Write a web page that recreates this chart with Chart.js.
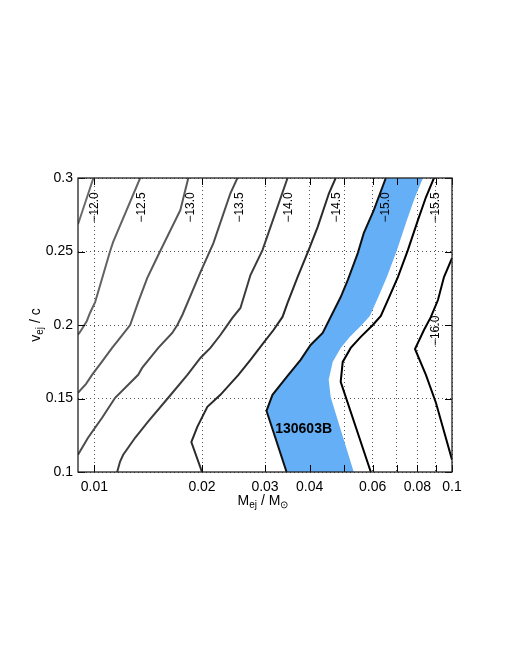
<!DOCTYPE html>
<html>
<head>
<meta charset="utf-8">
<script src="https://cdn.jsdelivr.net/npm/chart.js@4.4.1/dist/chart.umd.min.js"></script>
<style>
body { margin: 0; background: #fff; }
#wrap { width: 513px; height: 664px; }
</style>
</head>
<body>
<div id="wrap"><canvas id="kilonova" width="513" height="664"></canvas></div>
<script>
// contour levels (magnitudes) and their traced paths: ejecta mass (Msun) vs velocity (c)
const levels = ['\u221212.0', '\u221212.5', '\u221213.0', '\u221213.5', '\u221214.0', '\u221214.5', '\u221215.0', '\u221215.5', '\u221216.0'];

const mass120 = [0.00994, 0.009];
const vel120  = [0.3, 0.2685];
const mass125 = [0.01343, 0.01128, 0.01107, 0.01058, 0.01005, 0.00972, 0.00952, 0.00912, 0.009];
const vel125  = [0.3, 0.2564, 0.2503, 0.234, 0.2156, 0.2082, 0.2026, 0.1953, 0.1935];
const mass130 = [0.01831, 0.01739, 0.01528, 0.01405, 0.01326, 0.01259, 0.0118, 0.01121, 0.01044, 0.00985, 0.00948, 0.009];
const vel130  = [0.3, 0.2781, 0.2503, 0.2319, 0.2156, 0.2, 0.1912, 0.1844, 0.1742, 0.1661, 0.16, 0.1539];
const mass135 = [0.02512, 0.02401, 0.02152, 0.0198, 0.01762, 0.01706, 0.01651, 0.01509, 0.0136, 0.01326, 0.01143, 0.01051, 0.0096, 0.009];
const vel135  = [0.3, 0.2896, 0.2557, 0.236, 0.2068, 0.2, 0.1946, 0.1844, 0.1708, 0.1661, 0.1505, 0.1369, 0.1233, 0.1117];
const mass140 = [0.03469, 0.02952, 0.02732, 0.02561, 0.02432, 0.02325, 0.02251, 0.02111, 0.01979, 0.0182, 0.01609, 0.01413, 0.013, 0.01204, 0.0118, 0.01158];
const vel140  = [0.3, 0.2509, 0.234, 0.2116, 0.2048, 0.198, 0.1932, 0.1844, 0.1776, 0.1661, 0.1505, 0.1342, 0.1233, 0.1117, 0.1071, 0.1];
const mass145 = [0.04729, 0.04529, 0.0421, 0.03973, 0.037, 0.03469, 0.03358, 0.03169, 0.02971, 0.02732, 0.02528, 0.02251, 0.0207, 0.0194, 0.01867, 0.02];
const vel145  = [0.3, 0.2896, 0.2666, 0.2509, 0.2326, 0.215, 0.2055, 0.1966, 0.1878, 0.1763, 0.1661, 0.1525, 0.1443, 0.1307, 0.1204, 0.1];
const mass150 = [0.06531, 0.06045, 0.05666, 0.05452, 0.05111, 0.04884, 0.04638, 0.04349, 0.04024, 0.03773, 0.03469, 0.03148, 0.03029, 0.03447];
const vel150  = [0.3, 0.2781, 0.2625, 0.2489, 0.2306, 0.219, 0.2082, 0.1946, 0.1864, 0.1763, 0.1654, 0.1525, 0.1416, 0.1];
const mass155 = [0.08903, 0.08454, 0.0803, 0.07527, 0.07058, 0.06658, 0.06324, 0.06006, 0.05557, 0.0521, 0.04948, 0.04884, 0.05929];
const vel155  = [0.3, 0.2869, 0.2713, 0.2509, 0.2326, 0.2184, 0.2062, 0.2, 0.1919, 0.1844, 0.1749, 0.1613, 0.1];
const mass160 = [0.1, 0.09497, 0.09135, 0.08731, 0.08349, 0.0788, 0.08454, 0.09017, 0.1];
const vel160  = [0.2455, 0.2326, 0.217, 0.2055, 0.1966, 0.1837, 0.1661, 0.1471, 0.1084];

// 130603B allowed band: left edge is the -15.0 contour, right edge below
const bandRightMass = [0.08295, 0.0788, 0.07478, 0.07013, 0.06575, 0.06205, 0.05892, 0.05594, 0.05176, 0.04884, 0.04638, 0.04521, 0.04579, 0.04884, 0.05312];
const bandRightVel  = [0.3, 0.2869, 0.2713, 0.2509, 0.2326, 0.2184, 0.2062, 0.2, 0.1919, 0.1844, 0.1749, 0.1627, 0.1511, 0.1288, 0.1];

// where each contour label sits
const labelMass = [0.01005, 0.01358, 0.01855, 0.0255, 0.03499, 0.0476, 0.06531, 0.09017, 0.09017];
const labelVel  = [0.28, 0.28, 0.28, 0.28, 0.28, 0.28, 0.28, 0.28, 0.196];

const massTicks = [0.01, 0.02, 0.03, 0.04, 0.05, 0.06, 0.07, 0.08, 0.09, 0.1];
const massTickLabels = ['0.01', '0.02', '0.03', '0.04', '', '0.06', '', '0.08', '', '0.1'];
const velTicks = [0.1, 0.15, 0.2, 0.25, 0.3];
const velTickLabels = ['0.1', '0.15', '0.2', '0.25', '0.3'];

const lineColors = ['#6a6a6a', '#636363', '#595959', '#4c4c4c', '#3c3c3c', '#2a2a2a', '#111111', '#000000', '#000000'];

const allMass = [mass120, mass125, mass130, mass135, mass140, mass145, mass150, mass155, mass160];
const allVel = [vel120, vel125, vel130, vel135, vel140, vel145, vel150, vel155, vel160];

function toPoints(xs, ys) {
    return xs.map((x, i) => ({x: x, y: ys[i]}));
}

const bandPoints = toPoints(mass150, vel150)
    .concat(toPoints(bandRightMass, bandRightVel).reverse());
bandPoints.push(bandPoints[0]);

const datasets = [{
    label: '130603B',
    data: bandPoints,
    showLine: true,
    borderWidth: 0,
    borderColor: 'rgba(0,0,0,0)',
    backgroundColor: 'rgb(100,175,245)',
    fill: 'shape',
    order: 2
}];

levels.forEach((lev, i) => {
    datasets.push({
        label: lev,
        data: toPoints(allMass[i], allVel[i]),
        showLine: true,
        borderColor: lineColors[i],
        borderWidth: 2,
        fill: false,
        order: 1
    });
});

const tickFont = {family: 'Liberation Sans', size: 14};

const decorations = {
    id: 'decorations',
    afterDraw(chart) {
        const {ctx, chartArea: a, scales: {x, y}} = chart;
        ctx.save();

        // tick marks on the inside of the box
        ctx.strokeStyle = '#000';
        ctx.lineWidth = 1;
        ctx.beginPath();
        massTicks.forEach(v => {
            const px = Math.round(x.getPixelForValue(v)) + 0.5;
            ctx.moveTo(px, a.top); ctx.lineTo(px, a.top + 7);
            ctx.moveTo(px, a.bottom); ctx.lineTo(px, a.bottom - 7);
        });
        velTicks.forEach(v => {
            const py = Math.round(y.getPixelForValue(v)) + 0.5;
            ctx.moveTo(a.left, py); ctx.lineTo(a.left + 7, py);
            ctx.moveTo(a.right, py); ctx.lineTo(a.right - 7, py);
        });
        ctx.stroke();

        ctx.strokeStyle = '#222';
        ctx.lineWidth = 1.3;
        ctx.strokeRect(a.left, a.top, a.right - a.left, a.bottom - a.top);

        // contour labels, rotated
        ctx.fillStyle = '#000';
        ctx.font = '12px "Liberation Sans"';
        ctx.textAlign = 'center';
        ctx.textBaseline = 'middle';
        levels.forEach((lev, i) => {
            ctx.save();
            ctx.translate(x.getPixelForValue(labelMass[i]), y.getPixelForValue(labelVel[i]));
            ctx.rotate(-Math.PI / 2);
            ctx.fillText(lev, 0, 0);
            ctx.restore();
        });

        // GRB label
        ctx.font = 'bold 14px "Liberation Sans"';
        ctx.fillText('130603B', x.getPixelForValue(0.03847), y.getPixelForValue(0.1294));

        // axis titles with subscripts
        drawSubText(ctx, [['M', 0], ['ej', 1], [' / M', 0], ['\u2299', 1]], (a.left + a.right) / 2 - 2, a.bottom + 33);
        ctx.save();
        ctx.translate(a.left - 38, (a.top + a.bottom) / 2);
        ctx.rotate(-Math.PI / 2);
        drawSubText(ctx, [['v', 0], ['ej', 1], [' / c', 0]], 0, 0);
        ctx.restore();

        ctx.restore();
    }
};

function drawSubText(ctx, parts, cx, baseline) {
    const big = '14px "Liberation Sans"';
    const small = '10px "Liberation Sans"';
    let total = 0;
    parts.forEach(p => {
        ctx.font = p[1] ? small : big;
        total += ctx.measureText(p[0]).width;
    });
    let px = cx - total / 2;
    ctx.textAlign = 'left';
    ctx.textBaseline = 'alphabetic';
    parts.forEach(p => {
        ctx.font = p[1] ? small : big;
        ctx.fillText(p[0], px, baseline + (p[1] ? 3 : 0));
        px += ctx.measureText(p[0]).width;
    });
}

const ctx = document.getElementById('kilonova').getContext('2d');
new Chart(ctx, {
    type: 'scatter',
    data: {datasets: datasets},
    options: {
        responsive: false,
        animation: false,
        layout: {padding: {top: 178, right: 61, bottom: 152, left: 0}},
        elements: {point: {radius: 0, hoverRadius: 0}, line: {tension: 0}},
        plugins: {legend: {display: false}, tooltip: {enabled: false}},
        scales: {
            x: {
                type: 'logarithmic',
                min: 0.009,
                max: 0.1,
                z: 1,
                afterBuildTicks: s => { s.ticks = massTicks.map(v => ({value: v})); },
                afterFit: s => { s.height = 40; },
                ticks: {
                    autoSkip: false, maxRotation: 0, padding: 7, color: '#000', font: tickFont,
                    callback: (v, i) => massTickLabels[i]
                },
                grid: {color: '#555', lineWidth: 1, drawTicks: false},
                border: {display: false, dash: [1, 3]}
            },
            y: {
                type: 'linear',
                min: 0.1,
                max: 0.3,
                z: 1,
                afterBuildTicks: s => { s.ticks = velTicks.map(v => ({value: v})); },
                afterFit: s => { s.width = 78; },
                ticks: {
                    padding: 5, color: '#000', font: tickFont,
                    callback: (v, i) => velTickLabels[i]
                },
                grid: {color: '#555', lineWidth: 1, drawTicks: false},
                border: {display: false, dash: [1, 3]}
            }
        }
    },
    plugins: [decorations]
});
</script>
</body>
</html>
